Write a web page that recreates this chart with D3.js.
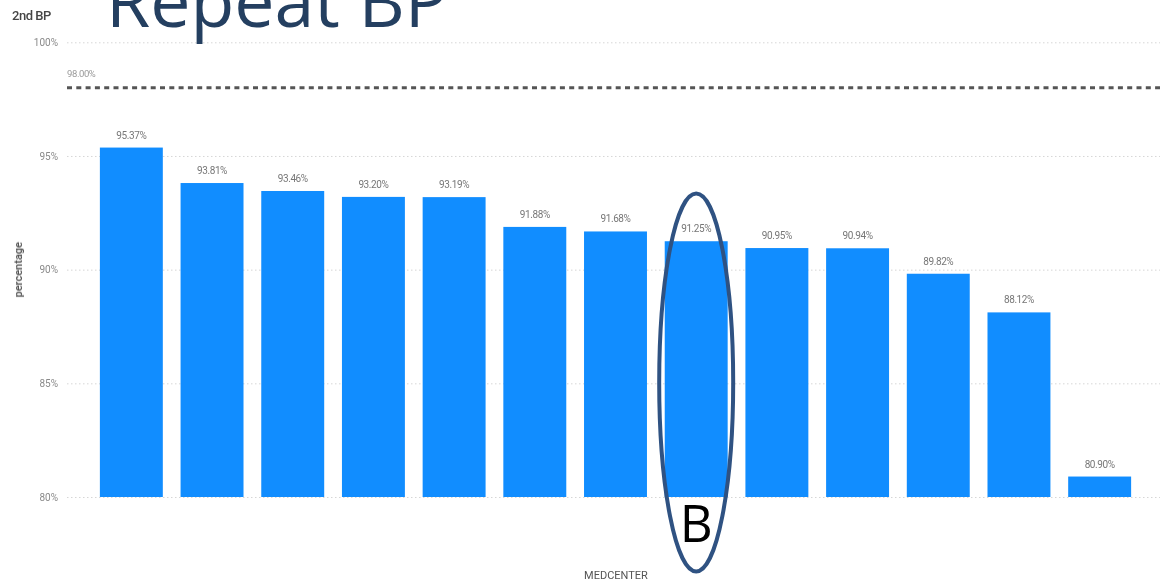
<!DOCTYPE html>
<html>
<head>
<meta charset="utf-8">
<script src="https://cdn.jsdelivr.net/npm/d3@7"></script>
<style>
  html, body { margin: 0; padding: 0; background: #fff; }
  svg { display: block; }
</style>
</head>
<body>
<svg id="chart" width="1160" height="588"></svg>
<script>
// Medical-center repeat BP rates (share of patients with a 2nd BP reading)
const centers = ["MC01", "MC02", "MC03", "MC04", "MC05", "MC06", "MC07", "B", "MC09", "MC10", "MC11", "MC12", "MC13"];
const percentages = [95.37, 93.81, 93.46, 93.20, 93.19, 91.88, 91.68, 91.25, 90.95, 90.94, 89.82, 88.12, 80.90];
const yTicks = [80, 85, 90, 95, 100];
const targetValue = 98;
const highlighted = "B";

const svg = d3.select("#chart");
const W = 1160, H = 588;

const blur = svg.append("defs").append("filter").attr("id", "soft")
  .attr("x", "-10%").attr("y", "-30%").attr("width", "120%").attr("height", "160%");
blur.append("feGaussianBlur").attr("stdDeviation", 0.45);

const x = d3.scaleBand().domain(centers).range([91, 1140]).paddingInner(0.22).paddingOuter(0.11);
const y = d3.scaleLinear().domain([80, 100]).range([497, 42.3]);

const chart = svg.append("g");

// Gridlines with tick labels
const yAxis = d3.axisLeft(y).tickValues(yTicks).tickFormat(d => d + "%").tickSize(-(W - 67)).tickPadding(9);
const ga = chart.append("g").attr("transform", "translate(67,0)").call(yAxis);
ga.select(".domain").remove();
ga.selectAll(".tick line").attr("stroke", "#d6d6d6").attr("stroke-dasharray", "1.5,2.5").attr("stroke-width", 1);
ga.selectAll(".tick text").attr("fill", "#8a8a8a").attr("font-family", "Roboto, 'DejaVu Sans', sans-serif")
  .attr("font-size", 10).attr("x", -9).attr("filter", "url(#soft)");

// Bars
chart.append("g").selectAll("rect").data(percentages).join("rect")
  .attr("x", (d, i) => x(centers[i]))
  .attr("width", x.bandwidth())
  .attr("y", d => y(d))
  .attr("height", d => y(80) - y(d))
  .attr("fill", "#118dff");

// Value labels
chart.append("g").selectAll("text").data(percentages).join("text")
  .attr("x", (d, i) => x(centers[i]) + x.bandwidth() / 2)
  .attr("y", d => y(d) - 9)
  .attr("text-anchor", "middle")
  .attr("font-family", "Roboto, 'DejaVu Sans', sans-serif")
  .attr("font-size", 10)
  .attr("letter-spacing", -0.4)
  .attr("fill", "#777")
  .attr("filter", "url(#soft)")
  .text(d => d.toFixed(2) + "%");

// Target line
chart.append("line")
  .attr("x1", 67).attr("x2", W)
  .attr("y1", y(targetValue)).attr("y2", y(targetValue))
  .attr("stroke", "#555").attr("stroke-width", 3)
  .attr("stroke-dasharray", "5,4.3");
chart.append("text")
  .attr("x", 67).attr("y", y(targetValue) - 11)
  .attr("font-family", "Roboto, 'DejaVu Sans', sans-serif")
  .attr("font-size", 9.5).attr("letter-spacing", -0.4)
  .attr("fill", "#999").attr("filter", "url(#soft)")
  .text(targetValue.toFixed(2) + "%");

// Axis titles
chart.append("text")
  .attr("transform", `translate(22,${y(90)}) rotate(-90)`)
  .attr("text-anchor", "middle")
  .attr("font-family", "Roboto, 'DejaVu Sans', sans-serif")
  .attr("font-size", 11).attr("font-weight", 600).attr("fill", "#555")
  .attr("filter", "url(#soft)")
  .text("percentage");
chart.append("text")
  .attr("x", 616).attr("y", 579)
  .attr("text-anchor", "middle")
  .attr("font-family", "Roboto, 'DejaVu Sans', sans-serif")
  .attr("font-size", 11).attr("fill", "#555")
  .attr("filter", "url(#soft)")
  .text("MEDCENTER");

// Panel name
chart.append("text")
  .attr("x", 12).attr("y", 20)
  .attr("font-family", "Roboto, 'DejaVu Sans', sans-serif")
  .attr("font-size", 13).attr("font-weight", 500).attr("letter-spacing", -0.5).attr("fill", "#444")
  .attr("filter", "url(#soft)")
  .text("2nd BP");

// Slide title
const title = svg.append("text")
  .attr("x", 106).attr("y", 27)
  .attr("font-family", "'Open Sans', sans-serif")
  .attr("font-size", 70)
  .attr("fill", "#243f60")
  .text("Repeat BP");
const tw = title.node().getComputedTextLength();
title.attr("font-size", 70 * 342 / tw);

// Highlight oval around the marked center
const cx = x(highlighted) + x.bandwidth() / 2;
svg.append("ellipse")
  .attr("cx", cx).attr("cy", 382.5)
  .attr("rx", 37).attr("ry", 189)
  .attr("fill", "none")
  .attr("stroke", "#2f5282").attr("stroke-width", 4);
svg.append("text")
  .attr("x", cx).attr("y", 542)
  .attr("text-anchor", "middle")
  .attr("font-family", "'Open Sans', sans-serif")
  .attr("font-size", 51)
  .attr("fill", "#000")
  .text(highlighted);
</script>
</body>
</html>
